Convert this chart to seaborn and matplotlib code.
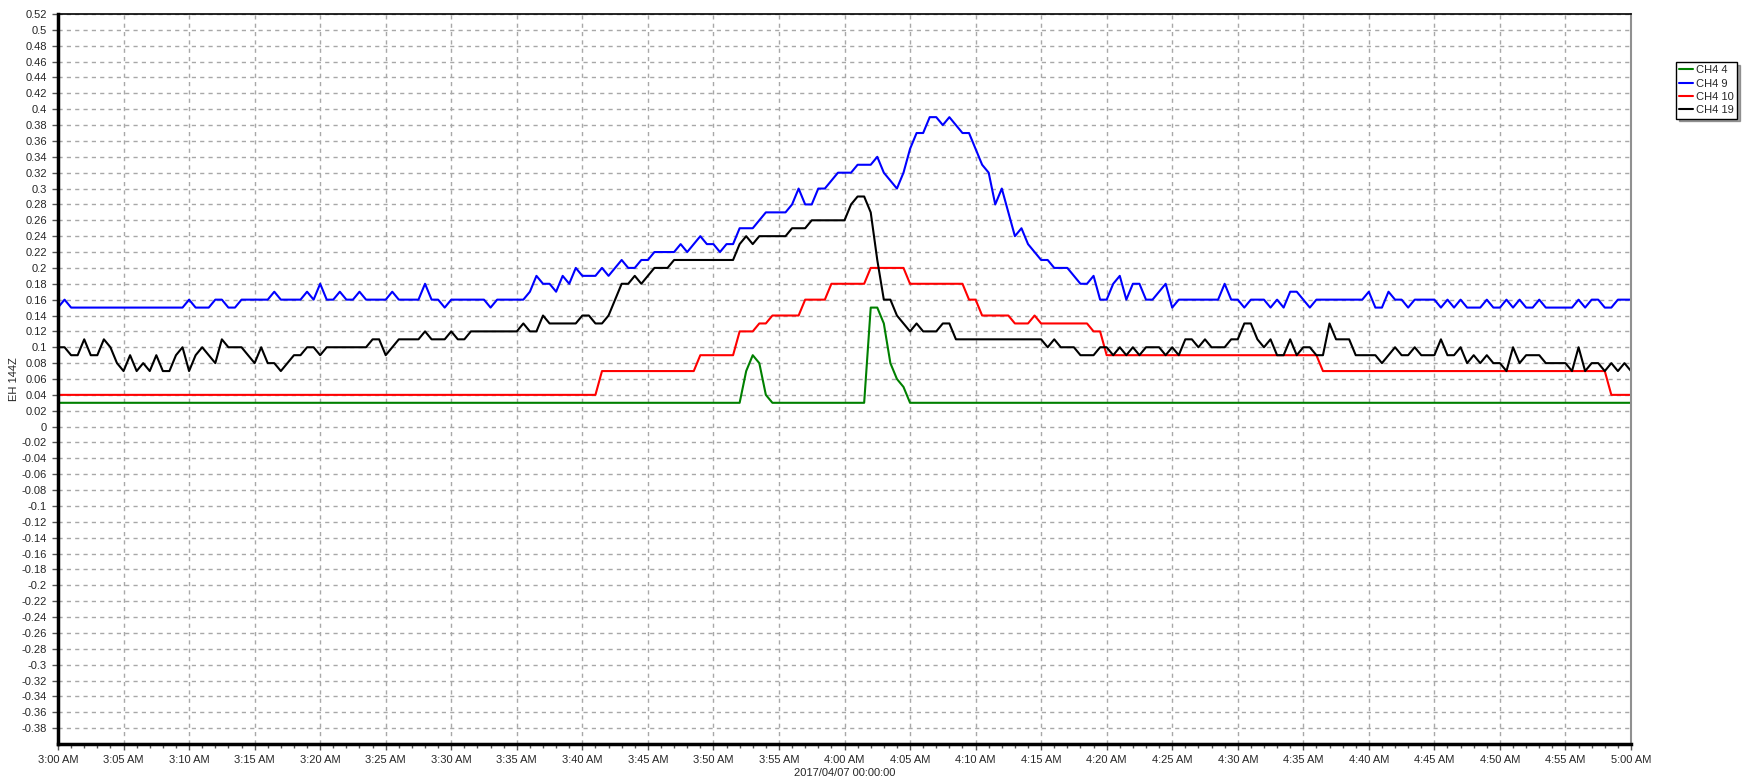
import matplotlib
matplotlib.use("Agg")
import matplotlib.pyplot as plt
import numpy as np
import pandas as pd
import seaborn as sns
from matplotlib.ticker import FixedLocator, MultipleLocator

# minutes after 3:00 AM, samples every 30 s
SAMPLE_STEP = 0.5

ch4_9 = [
    .15, .16, .15, .15, .15, .15, .15, .15, .15, .15,
    .15, .15, .15, .15, .15, .15, .15, .15, .15, .15,
    .16, .15, .15, .15, .16, .16, .15, .15, .16, .16,
    .16, .16, .16, .17, .16, .16, .16, .16, .17, .16,
    .18, .16, .16, .17, .16, .16, .17, .16, .16, .16,
    .16, .17, .16, .16, .16, .16, .18, .16, .16, .15,
    .16, .16, .16, .16, .16, .16, .15, .16, .16, .16,
    .16, .16, .17, .19, .18, .18, .17, .19, .18, .20,
    .19, .19, .19, .20, .19, .20, .21, .20, .20, .21,
    .21, .22, .22, .22, .22, .23, .22, .23, .24, .23,
    .23, .22, .23, .23, .25, .25, .25, .26, .27, .27,
    .27, .27, .28, .30, .28, .28, .30, .30, .31, .32,
    .32, .32, .33, .33, .33, .34, .32, .31, .30, .32,
    .35, .37, .37, .39, .39, .38, .39, .38, .37, .37,
    .35, .33, .32, .28, .30, .27, .24, .25, .23, .22,
    .21, .21, .20, .20, .20, .19, .18, .18, .19, .16,
    .16, .18, .19, .16, .18, .18, .16, .16, .17, .18,
    .15, .16, .16, .16, .16, .16, .16, .16, .18, .16,
    .16, .15, .16, .16, .16, .15, .16, .15, .17, .17,
    .16, .15, .16, .16, .16, .16, .16, .16, .16, .16,
    .17, .15, .15, .17, .16, .16, .15, .16, .16, .16,
    .16, .15, .16, .15, .16, .15, .15, .15, .16, .15,
    .15, .16, .15, .16, .15, .15, .16, .15, .15, .15,
    .15, .15, .16, .15, .16, .16, .15, .15, .16, .16,
    .16,
]

ch4_19 = [
    .10, .10, .09, .09, .11, .09, .09, .11, .10, .08,
    .07, .09, .07, .08, .07, .09, .07, .07, .09, .10,
    .07, .09, .10, .09, .08, .11, .10, .10, .10, .09,
    .08, .10, .08, .08, .07, .08, .09, .09, .10, .10,
    .09, .10, .10, .10, .10, .10, .10, .10, .11, .11,
    .09, .10, .11, .11, .11, .11, .12, .11, .11, .11,
    .12, .11, .11, .12, .12, .12, .12, .12, .12, .12,
    .12, .13, .12, .12, .14, .13, .13, .13, .13, .13,
    .14, .14, .13, .13, .14, .16, .18, .18, .19, .18,
    .19, .20, .20, .20, .21, .21, .21, .21, .21, .21,
    .21, .21, .21, .21, .23, .24, .23, .24, .24, .24,
    .24, .24, .25, .25, .25, .26, .26, .26, .26, .26,
    .26, .28, .29, .29, .27, .21, .16, .16, .14, .13,
    .12, .13, .12, .12, .12, .13, .13, .11, .11, .11,
    .11, .11, .11, .11, .11, .11, .11, .11, .11, .11,
    .11, .10, .11, .10, .10, .10, .09, .09, .09, .10,
    .10, .09, .10, .09, .10, .09, .10, .10, .10, .09,
    .10, .09, .11, .11, .10, .11, .10, .10, .10, .11,
    .11, .13, .13, .11, .10, .11, .09, .09, .11, .09,
    .10, .10, .09, .09, .13, .11, .11, .11, .09, .09,
    .09, .09, .08, .09, .10, .09, .09, .10, .09, .09,
    .09, .11, .09, .09, .10, .08, .09, .08, .09, .08,
    .08, .07, .10, .08, .09, .09, .09, .08, .08, .08,
    .08, .07, .10, .07, .08, .08, .07, .08, .07, .08,
    .07,
]

# step-like channels: (minute, value) vertices
ch4_10_t = [0, 41, 41.5, 48.5, 49, 51.5, 52, 53, 53.5, 54, 54.5, 56.5, 57, 58.5, 59,
            61.5, 62, 64.5, 65, 69, 69.5, 70, 70.5, 72.5, 73, 74, 74.5, 75, 78.5, 79,
            79.5, 80, 96, 96.5, 118, 118.5, 120]
ch4_10_v = [.04, .04, .07, .07, .09, .09, .12, .12, .13, .13, .14, .14, .16, .16, .18,
            .18, .20, .20, .18, .18, .16, .16, .14, .14, .13, .13, .14, .13, .13, .12,
            .12, .09, .09, .07, .07, .04, .04]

ch4_4_t = [0, 52, 52.5, 53, 53.5, 54, 54.5, 61.5, 62, 62.5, 63, 63.5, 64, 64.5, 65, 120]
ch4_4_v = [.03, .03, .07, .09, .08, .04, .03, .03, .15, .15, .13, .08, .06, .05, .03, .03]

channels = ["CH4 4", "CH4 9", "CH4 10", "CH4 19"]
colors = ["#008000", "#0000ff", "#ff0000", "#000000"]

x_ticks = list(range(0, 121, 5))
x_labels = [f"{(180 + m) // 60}:{(180 + m) % 60:02d} AM" for m in x_ticks]
y_ticks = np.round(np.arange(-0.38, 0.5201, 0.02), 2)

t_sampled = np.arange(len(ch4_9)) * SAMPLE_STEP
frames = [
    pd.DataFrame({"t": ch4_4_t, "v": ch4_4_v, "ch": "CH4 4"}),
    pd.DataFrame({"t": t_sampled, "v": ch4_9, "ch": "CH4 9"}),
    pd.DataFrame({"t": ch4_10_t, "v": ch4_10_v, "ch": "CH4 10"}),
    pd.DataFrame({"t": t_sampled, "v": ch4_19, "ch": "CH4 19"}),
]
df = pd.concat(frames, ignore_index=True)

sns.set_theme(style="white")
plt.rcParams["font.family"] = ["Liberation Sans", "DejaVu Sans"]

fig = plt.figure(figsize=(17.43, 7.78), dpi=100)
ax = fig.add_axes([58 / 1743, 1 - 744 / 778, (1631 - 58) / 1743, (744 - 14) / 778])

sns.lineplot(
    data=df, x="t", y="v", hue="ch", hue_order=channels,
    palette=dict(zip(channels, colors)), linewidth=1.5, sort=False,
    estimator=None, ax=ax, legend=True,
)

ax.set_xlim(0, 120)
ax.set_ylim(-0.40, 0.52)
ax.xaxis.set_major_locator(FixedLocator(x_ticks))
ax.xaxis.set_minor_locator(MultipleLocator(1))
ax.set_xticklabels(x_labels)
ax.set_yticks(y_ticks)
ax.set_yticklabels([f"{v:g}" for v in y_ticks])
ax.tick_params(axis="both", which="major", labelsize=8, length=4, width=1,
               color="#555555", direction="out", bottom=True, left=True, pad=4)
ax.tick_params(axis="x", which="minor", length=3, width=1, color="#555555",
               bottom=True)

ax.grid(True, which="major", color="#a8a8a8", linestyle=(0, (3, 3)), linewidth=1)

for side in ["left", "bottom"]:
    ax.spines[side].set_linewidth(2.5)
    ax.spines[side].set_color("black")
ax.spines["top"].set_linewidth(1.2)
ax.spines["top"].set_color("black")
ax.spines["right"].set_linewidth(1.5)
ax.spines["right"].set_color("#909090")

ax.set_xlabel("2017/04/07 00:00:00", fontsize=8, labelpad=2)
ax.set_ylabel("EH 144Z", fontsize=8, labelpad=2)

ax.legend(
    loc="upper right", bbox_to_anchor=(1737 / 1743, 1 - 62 / 778),
    bbox_transform=fig.transFigure, fontsize=8, frameon=True, fancybox=False,
    shadow=True, edgecolor="black", handlelength=1.2, handletextpad=0.3,
    borderpad=0.3, borderaxespad=0, labelspacing=0.3, title=None,
)

fig.savefig("out.png", dpi=100)
